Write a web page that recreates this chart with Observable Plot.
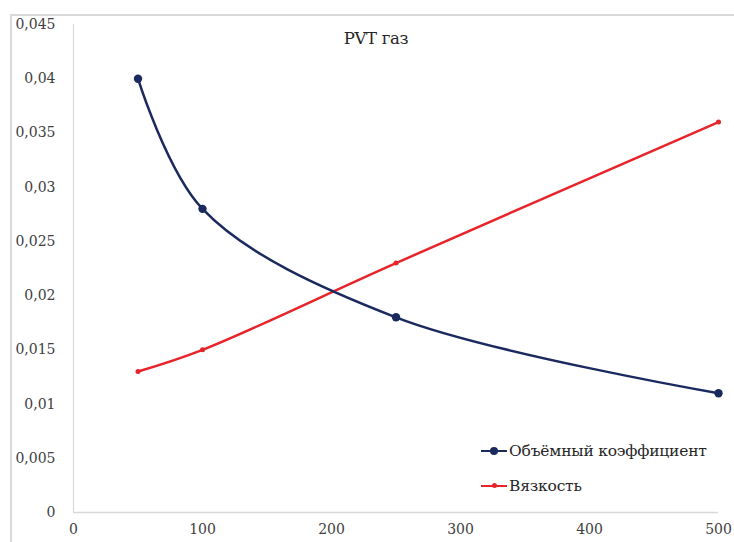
<!DOCTYPE html>
<html>
<head>
<meta charset="utf-8">
<script src="https://cdn.jsdelivr.net/npm/d3@7"></script>
<script src="https://cdn.jsdelivr.net/npm/@observablehq/plot@0.6"></script>
<style>
  body { margin: 0; background: #fff; font-family: "DejaVu Serif", serif; }
  #wrap { position: relative; width: 734px; height: 542px; overflow: hidden; }
  #frame { position: absolute; left: 10px; top: 14px; width: 730px; height: 540px;
           border-top: 2px solid #d9d9d9; border-left: 2px solid #d9d9d9; pointer-events: none; }
  #title { position: absolute; left: 0; width: 752px; top: 29px; text-align: center;
           font-size: 16.5px; color: #262626; letter-spacing: -0.3px; }
  #legend { position: absolute; left: 481px; top: 433px; font-size: 15.5px; color: #262626; letter-spacing: -0.2px; }
  .row { display: flex; align-items: center; height: 35px; }
  .sw { position: relative; width: 26px; height: 10px; margin-right: 2px; }
  .sw .ln { position: absolute; left: 0; right: 0; top: 4px; height: 2.5px; }
  .sw .dot { position: absolute; border-radius: 50%; }
  svg text { font-family: "DejaVu Serif", serif; }
</style>
</head>
<body>
<div id="wrap">
  <div id="chart"></div>
  <div id="frame"></div>
  <div id="title">PVT газ</div>
  <div id="legend"></div>
</div>
<script>
const pressure = [50, 100, 250, 500];
const volumeFactor = [0.040, 0.028, 0.018, 0.011];
const viscosity = [0.013, 0.015, 0.023, 0.036];
const seriesNames = ["Объёмный коэффициент", "Вязкость"];
const seriesColors = ["#1b2a5e", "#e8242b"];
const xTicks = [0, 100, 200, 300, 400, 500];
const yTicks = [0, 0.005, 0.01, 0.015, 0.02, 0.025, 0.03, 0.035, 0.04, 0.045];

const vf = pressure.map((p, i) => ({x: p, y: volumeFactor[i]}));
const vs = pressure.map((p, i) => ({x: p, y: viscosity[i]}));
const fmt = d => String(d).replace(".", ",");

const chart = Plot.plot({
  width: 734,
  height: 542,
  marginLeft: 73,
  marginRight: 16,
  marginTop: 24,
  marginBottom: 30,
  style: {fontFamily: '"DejaVu Serif", serif', fontSize: "14px", color: "#404040", background: "transparent"},
  x: {domain: [0, 500], ticks: xTicks, tickFormat: fmt, tickSize: 0, tickPadding: 12, label: null},
  y: {domain: [0, 0.045], ticks: yTicks, tickFormat: fmt, tickSize: 0, tickPadding: 18, label: null},
  marks: [
    Plot.ruleX([0], {stroke: "#d9d9d9", strokeWidth: 1.2}),
    Plot.ruleY([0], {stroke: "#d9d9d9", strokeWidth: 1.5}),
    Plot.line(vs, {x: "x", y: "y", stroke: seriesColors[1], strokeWidth: 2.5, curve: "catmull-rom"}),
    Plot.dot(vs, {x: "x", y: "y", fill: seriesColors[1], r: 2.5}),
    Plot.line(vf, {x: "x", y: "y", stroke: seriesColors[0], strokeWidth: 2.5, curve: "catmull-rom"}),
    Plot.dot(vf, {x: "x", y: "y", fill: seriesColors[0], r: 4.2})
  ]
});
document.getElementById("chart").appendChild(chart);

const legend = document.getElementById("legend");
seriesNames.forEach((name, i) => {
  const row = document.createElement("div");
  row.className = "row";
  const sw = document.createElement("div");
  sw.className = "sw";
  const ln = document.createElement("div");
  ln.className = "ln";
  ln.style.background = seriesColors[i];
  const dot = document.createElement("div");
  dot.className = "dot";
  const r = i === 0 ? 4 : 2.5;
  dot.style.width = dot.style.height = (2 * r) + "px";
  dot.style.left = (13 - r) + "px";
  dot.style.top = (5.2 - r) + "px";
  dot.style.background = seriesColors[i];
  sw.appendChild(ln); sw.appendChild(dot);
  const t = document.createElement("span");
  t.textContent = name;
  row.appendChild(sw); row.appendChild(t);
  legend.appendChild(row);
});
</script>
</body>
</html>
